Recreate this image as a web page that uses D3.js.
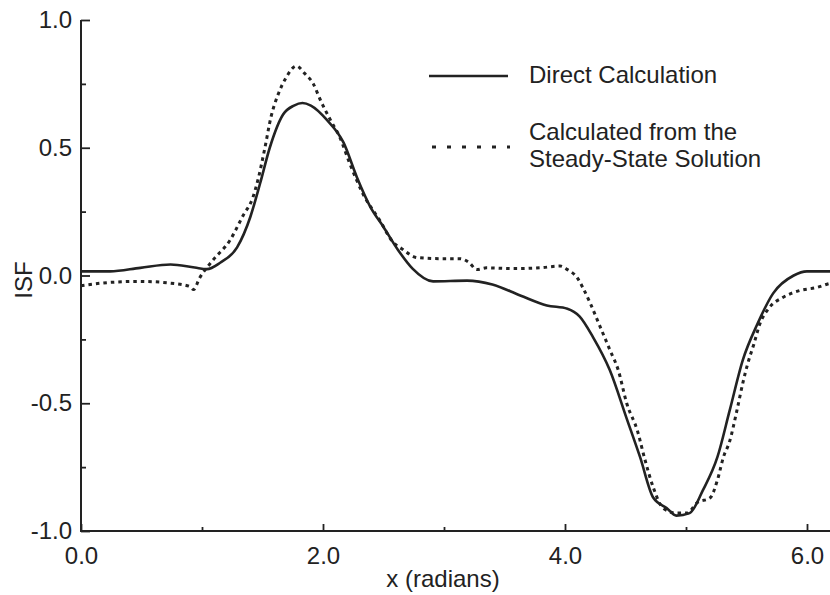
<!DOCTYPE html>
<html>
<head>
<meta charset="utf-8">
<script src="https://cdn.jsdelivr.net/npm/d3@7"></script>
<style>
  html, body { margin: 0; padding: 0; background: #fff; }
  svg { display: block; }
  text { font-family: "Liberation Sans", Arial, Helvetica, sans-serif; fill: #222; }
</style>
</head>
<body>
<svg id="chart" width="830" height="595"></svg>
<script>
// ---- data ----
const directX = [0, 0.24, 0.49, 0.74, 0.94, 1.04, 1.15, 1.29, 1.40, 1.48, 1.56, 1.67, 1.76, 1.83, 1.90, 2.03, 2.17, 2.28, 2.39, 2.50, 2.62, 2.74, 2.91, 3.19, 3.40, 3.63, 3.85, 4.02, 4.12, 4.23, 4.37, 4.51, 4.62, 4.73, 4.84, 4.92, 5.03, 5.14, 5.26, 5.36, 5.47, 5.59, 5.72, 5.89, 6.0, 6.2832];
const directY = [0.016, 0.016, 0.03, 0.043, 0.031, 0.025, 0.05, 0.11, 0.23, 0.36, 0.50, 0.63, 0.665, 0.675, 0.665, 0.61, 0.52, 0.385, 0.27, 0.19, 0.10, 0.027, -0.023, -0.02, -0.035, -0.078, -0.117, -0.13, -0.16, -0.24, -0.37, -0.56, -0.71, -0.87, -0.91, -0.94, -0.93, -0.84, -0.71, -0.53, -0.33, -0.19, -0.07, 0.0, 0.016, 0.016];

const steadyX = [0, 0.24, 0.49, 0.74, 0.90, 0.93, 0.98, 1.09, 1.23, 1.34, 1.42, 1.46, 1.52, 1.57, 1.63, 1.69, 1.78, 1.85, 1.92, 1.98, 2.06, 2.14, 2.22, 2.33, 2.47, 2.58, 2.65, 2.78, 2.97, 3.13, 3.21, 3.27, 3.35, 3.57, 3.79, 3.96, 4.02, 4.10, 4.15, 4.21, 4.29, 4.37, 4.44, 4.51, 4.60, 4.66, 4.73, 4.81, 4.92, 5.01, 5.09, 5.20, 5.26, 5.31, 5.36, 5.42, 5.47, 5.51, 5.56, 5.61, 5.69, 5.80, 5.94, 6.08, 6.19, 6.2832];
const steadyY = [-0.04, -0.027, -0.023, -0.03, -0.043, -0.055, -0.01, 0.06, 0.137, 0.235, 0.305, 0.37, 0.50, 0.62, 0.71, 0.77, 0.82, 0.79, 0.75, 0.685, 0.61, 0.54, 0.44, 0.32, 0.215, 0.13, 0.105, 0.07, 0.066, 0.066, 0.05, 0.023, 0.03, 0.027, 0.03, 0.037, 0.023, -0.008, -0.05, -0.11, -0.20, -0.29, -0.37, -0.50, -0.61, -0.72, -0.83, -0.91, -0.93, -0.93, -0.89, -0.87, -0.80, -0.71, -0.65, -0.53, -0.42, -0.345, -0.27, -0.19, -0.125, -0.086, -0.059, -0.047, -0.031, -0.025];

const xMajorTicks = [0, 2, 4, 6];
const xMinorTicks = [1, 3, 5];
const yMajorTicks = [-1, -0.5, 0, 0.5, 1];
const yMinorTicks = [-0.75, -0.25, 0.25, 0.75];
const legendLabels = [["Direct Calculation"], ["Calculated from the", "Steady-State Solution"]];
const xTitle = "x (radians)";
const yTitle = "ISF";

// ---- drawing ----
const svg = d3.select("#chart");
const ink = "#222";
const fs = 24;
const x = d3.scaleLinear().domain([0, 2 * Math.PI]).range([81, 81 + 2 * Math.PI * 121]);
const y = d3.scaleLinear().domain([-1, 1]).range([531, 20]);
const f1 = d3.format(".1f");
const fmt = d => f1(d).replace("\u2212", "-");

// y axis
const gy = svg.append("g").attr("transform", `translate(${x(0)},0)`)
  .call(d3.axisLeft(y).tickValues(yMajorTicks).tickFormat(fmt).tickSizeInner(-9).tickSizeOuter(0).tickPadding(9));
const gym = svg.append("g").attr("transform", `translate(${x(0)},0)`)
  .call(d3.axisLeft(y).tickValues(yMinorTicks).tickFormat("").tickSizeInner(-5).tickSizeOuter(0));
// x axis
const gx = svg.append("g").attr("transform", `translate(0,${y(-1)})`)
  .call(d3.axisBottom(x).tickValues(xMajorTicks).tickFormat(fmt).tickSizeInner(-7).tickSizeOuter(0).tickPadding(16));
const gxm = svg.append("g").attr("transform", `translate(0,${y(-1)})`)
  .call(d3.axisBottom(x).tickValues(xMinorTicks).tickFormat("").tickSizeInner(-4).tickSizeOuter(0));

[gy, gym, gx, gxm].forEach(g => {
  g.selectAll("path.domain").attr("stroke", ink).attr("stroke-width", 2);
  g.selectAll(".tick line").attr("stroke", ink).attr("stroke-width", 1.8);
  g.selectAll("text").attr("font-size", fs).attr("fill", ink)
    .attr("font-family", "'Liberation Sans', Arial, Helvetica, sans-serif");
});
gym.select("path.domain").remove();
gxm.select("path.domain").remove();
gy.select("path.domain").attr("d", `M0,${y(1)}V${y(-1) + 1}`);
gx.select("path.domain").attr("d", `M${x(0) - 1},0H${x(2 * Math.PI)}`);

// axis titles
svg.append("text").attr("x", 443).attr("y", 587).attr("text-anchor", "middle")
  .attr("font-size", fs).text(xTitle);
svg.append("text").attr("transform", "translate(32,280) rotate(-90)").attr("text-anchor", "middle")
  .attr("font-size", fs).text(yTitle);

// lines
const line = d3.line().x(d => x(d[0])).y(d => y(d[1])).curve(d3.curveMonotoneX);
const directData = directX.map((v, i) => [v, directY[i]]);
const steadyData = steadyX.map((v, i) => [v, steadyY[i]]);

svg.append("path").datum(steadyData).attr("d", line)
  .attr("fill", "none").attr("stroke", ink).attr("stroke-width", 3)
  .attr("stroke-dasharray", "3.5,4");
svg.append("path").datum(directData).attr("d", line)
  .attr("fill", "none").attr("stroke", ink).attr("stroke-width", 2.6);

// legend
const lg = svg.append("g");
lg.append("line").attr("x1", 429).attr("x2", 508).attr("y1", 76).attr("y2", 76)
  .attr("stroke", ink).attr("stroke-width", 2.6);
lg.append("line").attr("x1", 432).attr("x2", 510).attr("y1", 147).attr("y2", 147)
  .attr("stroke", ink).attr("stroke-width", 3).attr("stroke-dasharray", "4,11");
lg.append("text").attr("x", 529).attr("y", 83).attr("font-size", fs).text(legendLabels[0][0]);
lg.append("text").attr("x", 529).attr("y", 140).attr("font-size", fs).text(legendLabels[1][0]);
lg.append("text").attr("x", 529).attr("y", 167).attr("font-size", fs).text(legendLabels[1][1]);
</script>
</body>
</html>
